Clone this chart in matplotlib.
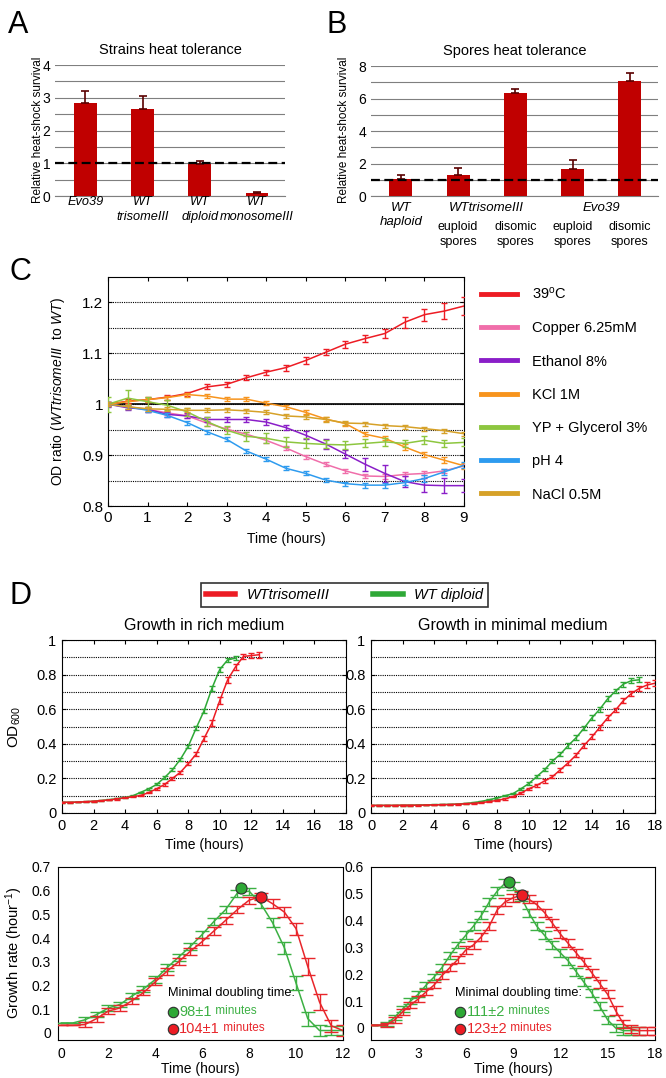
import numpy as np
import matplotlib.pyplot as plt
from matplotlib.lines import Line2D
from matplotlib.transforms import blended_transform_factory

plt.rcParams['font.family'] = ['Liberation Sans', 'DejaVu Sans']
plt.rcParams['mathtext.fontset'] = 'custom'
plt.rcParams['mathtext.rm'] = 'Liberation Sans'
plt.rcParams['mathtext.it'] = 'Liberation Sans:italic'

W, H = 666, 1078

# ---------------- A: strains heat tolerance ----------------
a_names = ['Evo39', 'WT\ntrisomeIII', 'WT\ndiploid', 'WT\nmonosomeIII']
a_vals = [2.83, 2.65, 0.99, 0.10]
a_err = [0.38, 0.39, 0.08, 0.03]

# ---------------- B: spores heat tolerance ----------------
b_sub = ['WT\nhaploid', 'euploid\nspores', 'disomic\nspores', 'euploid\nspores', 'disomic\nspores']
b_groups = ['WTtrisomeIII', 'Evo39']
b_vals = [1.02, 1.31, 6.34, 1.66, 7.10]
b_err = [0.27, 0.43, 0.23, 0.53, 0.49]

# ---------------- C: OD ratio under stresses ----------------
c_time = [0, 0.5, 1, 1.5, 2, 2.5, 3, 3.5, 4, 4.5, 5, 5.5, 6, 6.5, 7, 7.5, 8, 8.5, 9]
c_39 = [1.000, 1.006, 1.009, 1.014, 1.021, 1.034, 1.039, 1.052, 1.063, 1.072, 1.086,
        1.102, 1.118, 1.129, 1.139, 1.161, 1.176, 1.183, 1.193]
c_39_err = [0.004, 0.004, 0.005, 0.005, 0.004, 0.005, 0.005, 0.005, 0.005, 0.006, 0.007,
            0.006, 0.007, 0.007, 0.008, 0.011, 0.012, 0.015, 0.017]
c_copper = [1.000, 0.995, 0.990, 0.983, 0.977, 0.963, 0.951, 0.941, 0.929, 0.914, 0.897,
            0.882, 0.869, 0.859, 0.858, 0.862, 0.864, 0.869, 0.879]
c_copper_err = [0.004, 0.004, 0.005, 0.004, 0.004, 0.005, 0.004, 0.004, 0.005, 0.004, 0.004,
                0.004, 0.004, 0.004, 0.004, 0.004, 0.004, 0.004, 0.004]
c_ethanol = [1.000, 0.993, 0.990, 0.980, 0.977, 0.970, 0.970, 0.970, 0.965, 0.954, 0.939,
             0.922, 0.902, 0.882, 0.864, 0.848, 0.841, 0.840, 0.840]
c_ethanol_err = [0.005, 0.005, 0.005, 0.005, 0.005, 0.005, 0.004, 0.004, 0.005, 0.005, 0.008,
                 0.010, 0.008, 0.013, 0.016, 0.010, 0.014, 0.015, 0.013]
c_kcl = [1.000, 1.005, 1.009, 1.013, 1.019, 1.016, 1.010, 1.010, 1.002, 0.995, 0.984,
         0.971, 0.962, 0.941, 0.933, 0.916, 0.901, 0.890, 0.879]
c_kcl_err = [0.004, 0.004, 0.004, 0.004, 0.004, 0.004, 0.004, 0.004, 0.004, 0.004, 0.004,
             0.004, 0.004, 0.004, 0.004, 0.005, 0.005, 0.006, 0.006]
c_glycerol = [1.000, 1.012, 1.005, 0.998, 0.985, 0.966, 0.949, 0.937, 0.933, 0.926, 0.923,
              0.921, 0.920, 0.923, 0.926, 0.923, 0.929, 0.923, 0.925]
c_glycerol_err = [0.015, 0.015, 0.010, 0.010, 0.008, 0.008, 0.008, 0.009, 0.010, 0.010, 0.010,
                  0.008, 0.008, 0.008, 0.008, 0.007, 0.008, 0.007, 0.008]
c_ph4 = [1.000, 0.995, 0.988, 0.978, 0.964, 0.946, 0.931, 0.908, 0.892, 0.874, 0.864,
         0.851, 0.844, 0.841, 0.841, 0.846, 0.854, 0.867, 0.880]
c_ph4_err = [0.004, 0.004, 0.004, 0.004, 0.004, 0.004, 0.004, 0.004, 0.004, 0.004, 0.004,
             0.004, 0.004, 0.005, 0.005, 0.005, 0.006, 0.006, 0.006]
c_nacl = [1.000, 0.995, 0.991, 0.990, 0.988, 0.988, 0.989, 0.987, 0.984, 0.977, 0.975,
          0.970, 0.963, 0.962, 0.958, 0.956, 0.952, 0.948, 0.942]
c_nacl_err = [0.004, 0.004, 0.004, 0.004, 0.004, 0.004, 0.004, 0.004, 0.004, 0.004, 0.004,
              0.004, 0.004, 0.004, 0.004, 0.004, 0.004, 0.004, 0.004]
c_labels = ['39$^{\\mathrm{o}}$C', 'Copper 6.25mM', 'Ethanol 8%', 'KCl 1M', 'YP + Glycerol 3%',
            'pH 4', 'NaCl 0.5M']
c_colors = ['#ed1c24', '#f06eaa', '#8a1ec8', '#f7941d', '#8dc63f', '#2e9bef', '#d6a128']

# ---------------- D: growth curves ----------------
d_rich_t_red = [0, 0.5, 1, 1.5, 2, 2.5, 3, 3.5, 4, 4.5, 5, 5.5, 6, 6.5, 7, 7.5, 8, 8.5, 9,
                9.5, 10, 10.5, 11, 11.5, 12, 12.5]
d_rich_red = [0.062, 0.062, 0.063, 0.065, 0.068, 0.071, 0.076, 0.081, 0.088, 0.094, 0.102,
              0.118, 0.140, 0.165, 0.200, 0.235, 0.285, 0.340, 0.430, 0.520, 0.650, 0.770,
              0.845, 0.905, 0.910, 0.915]
d_rich_red_err = [0.002, 0.002, 0.002, 0.002, 0.002, 0.002, 0.002, 0.003, 0.003, 0.003, 0.004,
                  0.005, 0.006, 0.007, 0.008, 0.010, 0.010, 0.012, 0.014, 0.016, 0.018, 0.018,
                  0.016, 0.015, 0.016, 0.018]
d_rich_t_green = [0, 0.5, 1, 1.5, 2, 2.5, 3, 3.5, 4, 4.5, 5, 5.5, 6, 6.5, 7, 7.5, 8, 8.5, 9,
                  9.5, 10, 10.5, 11]
d_rich_green = [0.062, 0.062, 0.063, 0.065, 0.068, 0.072, 0.077, 0.083, 0.090, 0.100, 0.120,
                0.140, 0.165, 0.205, 0.250, 0.310, 0.385, 0.490, 0.590, 0.720, 0.830, 0.885,
                0.895]
d_rich_green_err = [0.002, 0.002, 0.002, 0.002, 0.002, 0.002, 0.002, 0.003, 0.003, 0.003, 0.004,
                    0.005, 0.006, 0.007, 0.008, 0.010, 0.010, 0.012, 0.014, 0.016, 0.014, 0.012,
                    0.010]

d_min_t_red = [0, 0.5, 1, 1.5, 2, 2.5, 3, 3.5, 4, 4.5, 5, 5.5, 6, 6.5, 7, 7.5, 8, 8.5, 9,
               9.5, 10, 10.5, 11, 11.5, 12, 12.5, 13, 13.5, 14, 14.5, 15, 15.5, 16, 16.5,
               17, 17.5, 18]
d_min_red = [0.044, 0.044, 0.044, 0.044, 0.045, 0.045, 0.045, 0.046, 0.047, 0.048, 0.049,
             0.051, 0.053, 0.056, 0.060, 0.066, 0.073, 0.082, 0.095, 0.115, 0.140, 0.160,
             0.185, 0.210, 0.250, 0.290, 0.335, 0.390, 0.440, 0.495, 0.550, 0.595, 0.650,
             0.690, 0.720, 0.740, 0.750]
d_min_red_err = [0.002, 0.002, 0.002, 0.002, 0.002, 0.002, 0.002, 0.002, 0.002, 0.002, 0.002,
                 0.002, 0.002, 0.003, 0.003, 0.003, 0.004, 0.004, 0.005, 0.006, 0.007, 0.008,
                 0.009, 0.010, 0.011, 0.012, 0.013, 0.013, 0.014, 0.014, 0.014, 0.014, 0.014,
                 0.014, 0.015, 0.016, 0.018]
d_min_t_green = [0, 0.5, 1, 1.5, 2, 2.5, 3, 3.5, 4, 4.5, 5, 5.5, 6, 6.5, 7, 7.5, 8, 8.5, 9,
                 9.5, 10, 10.5, 11, 11.5, 12, 12.5, 13, 13.5, 14, 14.5, 15, 15.5, 16, 16.5, 17]
d_min_green = [0.044, 0.044, 0.044, 0.044, 0.045, 0.045, 0.046, 0.047, 0.048, 0.049, 0.050,
               0.052, 0.055, 0.060, 0.067, 0.077, 0.087, 0.100, 0.112, 0.140, 0.170, 0.210,
               0.250, 0.300, 0.340, 0.390, 0.435, 0.490, 0.550, 0.600, 0.660, 0.705, 0.745,
               0.765, 0.770]
d_min_green_err = [0.002, 0.002, 0.002, 0.002, 0.002, 0.002, 0.002, 0.002, 0.002, 0.002, 0.002,
                   0.002, 0.002, 0.003, 0.003, 0.003, 0.004, 0.004, 0.005, 0.006, 0.007, 0.008,
                   0.009, 0.010, 0.011, 0.012, 0.013, 0.013, 0.014, 0.014, 0.014, 0.014, 0.014,
                   0.014, 0.015]

# growth rates
gr_rich_t = [0, 0.5, 1, 1.5, 2, 2.5, 3, 3.5, 4, 4.5, 5, 5.5, 6, 6.5, 7, 7.5, 8, 8.5, 9,
             9.5, 10, 10.5, 11, 11.5, 12]
gr_rich_green = [0.042, 0.042, 0.055, 0.077, 0.105, 0.120, 0.155, 0.185, 0.225, 0.275, 0.320,
                 0.365, 0.415, 0.470, 0.520, 0.590, 0.598, 0.545, 0.465, 0.360, 0.210, 0.060,
                 0.010, 0.010, 0.010]
gr_rich_green_err = [0.0, 0.0, 0.010, 0.012, 0.012, 0.012, 0.012, 0.012, 0.015, 0.015, 0.015,
                     0.015, 0.015, 0.015, 0.015, 0.015, 0.015, 0.018, 0.020, 0.025, 0.030,
                     0.030, 0.025, 0.020, 0.020]
gr_rich_red = [0.032, 0.032, 0.035, 0.060, 0.092, 0.105, 0.135, 0.170, 0.215, 0.260, 0.300,
               0.345, 0.385, 0.430, 0.475, 0.520, 0.560, 0.575, 0.545, 0.510, 0.440, 0.280,
               0.130, 0.030, 0.010]
gr_rich_red_err = [0.0, 0.0, 0.010, 0.012, 0.012, 0.012, 0.012, 0.012, 0.015, 0.015, 0.015,
                   0.015, 0.015, 0.015, 0.015, 0.015, 0.015, 0.015, 0.018, 0.020, 0.025, 0.035,
                   0.035, 0.025, 0.025]
gr_min_t_red = d_min_t_red
gr_min_red = [0.010, 0.010, 0.012, 0.030, 0.060, 0.085, 0.108, 0.135, 0.160, 0.195, 0.225,
              0.255, 0.290, 0.310, 0.340, 0.380, 0.440, 0.470, 0.485, 0.494, 0.480, 0.460,
              0.430, 0.390, 0.350, 0.315, 0.280, 0.245, 0.205, 0.165, 0.125, 0.065, 0.015,
              -0.005, -0.010, -0.010, -0.010]
gr_min_red_err = [0.0, 0.0, 0.008, 0.010, 0.010, 0.012, 0.012, 0.012, 0.012, 0.012, 0.012,
                  0.012, 0.015, 0.015, 0.015, 0.015, 0.015, 0.015, 0.015, 0.015, 0.015, 0.015,
                  0.015, 0.015, 0.015, 0.015, 0.015, 0.015, 0.015, 0.015, 0.015, 0.015, 0.015,
                  0.015, 0.015, 0.015, 0.015]
gr_min_t_green = d_min_t_green
gr_min_green = [0.010, 0.010, 0.015, 0.040, 0.070, 0.100, 0.126, 0.160, 0.190, 0.225, 0.270,
                0.310, 0.345, 0.380, 0.420, 0.470, 0.510, 0.540, 0.530, 0.490, 0.430, 0.380,
                0.345, 0.310, 0.280, 0.250, 0.210, 0.170, 0.130, 0.080, 0.030, 0.000, -0.010,
                -0.010, -0.010]
gr_min_green_err = [0.0, 0.0, 0.008, 0.010, 0.010, 0.012, 0.012, 0.012, 0.012, 0.012, 0.012,
                    0.012, 0.015, 0.015, 0.015, 0.015, 0.015, 0.015, 0.015, 0.015, 0.015, 0.015,
                    0.015, 0.015, 0.015, 0.015, 0.015, 0.015, 0.015, 0.015, 0.015, 0.015, 0.015,
                    0.015, 0.015]

# peak growth (minimal doubling time)
peak_rich_t = [7.65, 8.5]
peak_rich_v = [0.613, 0.575]
peak_min_t = [8.75, 9.55]
peak_min_v = [0.544, 0.494]
dbl_rich = ['98\u00b11', '104\u00b11']
dbl_min = ['111\u00b12', '123\u00b12']

bar_red = '#c00000'
d_red = '#ec1c24'
d_green = '#2ea836'
txt_green = '#3cb043'
txt_red = '#e8262b'

fig = plt.figure(figsize=(W / 100, H / 100), dpi=100)


def px_axes(x0, y0, x1, y1):
    return fig.add_axes([x0 / W, 1 - y1 / H, (x1 - x0) / W, (y1 - y0) / H])


def to_ax(ax, px, py):
    b = ax.get_position()
    return ((px / W - b.x0) / b.width, ((1 - py / H) - b.y0) / b.height)


def bar_panel(ax, vals, err, ymax, step, title):
    x = np.arange(len(vals))
    ax.bar(x, vals, width=0.4, color=bar_red, zorder=3)
    ax.errorbar(x, vals, yerr=[np.zeros(len(err)), err], fmt='none', ecolor='#5a0000',
                elinewidth=1.2, capsize=3, capthick=1.2, zorder=4)
    ax.axhline(1, color='black', lw=1.6, dashes=(4, 2), zorder=5)
    ax.set_ylim(0, ymax)
    ax.set_yticks(np.arange(0, ymax + 0.01, step * 2))
    ax.set_yticks(np.arange(0, ymax + 0.01, step), minor=True)
    ax.yaxis.grid(True, which='both', color='#7f7f7f', lw=0.8, zorder=0)
    ax.set_axisbelow(True)
    for s in ['left', 'top', 'right']:
        ax.spines[s].set_visible(False)
    ax.spines['bottom'].set_color('#7f7f7f')
    ax.tick_params(axis='both', which='both', length=0, labelsize=10)
    ax.set_xticks([])
    ax.set_title(title, fontsize=10.5, pad=8)
    ax.set_ylabel('Relative heat-shock survival', fontsize=8.5)
    return x


# ---- A
axA = px_axes(55, 65, 285, 196)
xa = bar_panel(axA, a_vals, a_err, 4, 0.5, 'Strains heat tolerance')
axA.set_xlim(-0.53, 3.49)
axA.yaxis.set_label_coords(*to_ax(axA, 44, 130))
trA = blended_transform_factory(axA.transData, axA.transAxes)
for xi, name in zip(xa, a_names):
    axA.text(xi, to_ax(axA, 0, 196)[1], name, transform=trA, ha='center', va='top',
             fontsize=9.2, style='italic', linespacing=1.35)

# ---- B
axB = px_axes(371, 66, 658, 196)
xb = bar_panel(axB, b_vals, b_err, 8, 1, 'Spores heat tolerance')
axB.set_xlim(-0.52, 4.49)
axB.yaxis.set_label_coords(*to_ax(axB, 350, 130))
trB = blended_transform_factory(axB.transData, axB.transAxes)
axB.text(xb[0], to_ax(axB, 0, 202)[1], b_sub[0], transform=trB, ha='center', va='top',
         fontsize=9.5, style='italic', linespacing=1.25)
for xi, name in zip(xb[1:], b_sub[1:]):
    axB.text(xi, to_ax(axB, 0, 221)[1], name, transform=trB, ha='center', va='top',
             fontsize=9, linespacing=1.3)
for k, g in enumerate(b_groups):
    axB.text((xb[1 + 2 * k] + xb[2 + 2 * k]) / 2, to_ax(axB, 0, 202)[1], g, transform=trB,
             ha='center', va='top', fontsize=9.5, style='italic')

# ---- C
axC = px_axes(108, 277, 464, 506)
c_series = [(c_39, c_39_err), (c_copper, c_copper_err), (c_ethanol, c_ethanol_err),
            (c_kcl, c_kcl_err), (c_glycerol, c_glycerol_err), (c_ph4, c_ph4_err),
            (c_nacl, c_nacl_err)]
handles = []
axC.axhline(1, color='black', lw=1.2, zorder=1)
for (vals, err), col in zip(c_series, c_colors):
    ln, = axC.plot(c_time, vals, color=col, lw=1.1, zorder=3)
    axC.errorbar(c_time, vals, yerr=err, fmt='none', ecolor=col, elinewidth=1,
                 capsize=2.5, capthick=1, zorder=3)
    handles.append(ln)
axC.set_xlim(0, 9)
axC.set_ylim(0.8, 1.25)
axC.set_xticks(range(10))
axC.set_yticks([0.8, 0.9, 1.0, 1.1, 1.2])
axC.set_yticklabels(['0.8', '0.9', '1', '1.1', '1.2'])
axC.set_yticks(np.arange(0.85, 1.21, 0.05), minor=True)
axC.yaxis.grid(True, which='both', color='black', lw=0.8, ls=(0, (1, 1)), zorder=0)
axC.tick_params(axis='both', which='major', direction='in', top=True, right=True,
                length=3, labelsize=11)
axC.tick_params(axis='y', which='minor', length=0)
axC.set_xlabel('Time (hours)', fontsize=10)
axC.xaxis.set_label_coords(*to_ax(axC, 286, 532))
axC.set_ylabel('OD ratio ($\\it{WTtrisomeIII}$  to $\\it{WT}$)', fontsize=10)
axC.yaxis.set_label_coords(*to_ax(axC, 67, 391))
leg = axC.legend(handles, c_labels, loc='upper left', bbox_to_anchor=(481 / W, 1 - 286 / H),
                 bbox_transform=fig.transFigure, frameon=False, fontsize=10.5,
                 handlelength=2.5, handletextpad=1.0, labelspacing=1.32,
                 borderaxespad=0, borderpad=0)
for ln in leg.get_lines():
    ln.set_linewidth(3.5)


# ---- D top: OD curves
def od_panel(ax, title, ylab):
    ax.set_xlim(0, 18)
    ax.set_ylim(0, 1)
    ax.set_xticks(range(0, 19, 2))
    ax.set_yticks([0, 0.2, 0.4, 0.6, 0.8, 1.0])
    ax.set_yticklabels(['0', '0.2', '0.4', '0.6', '0.8', '1'])
    ax.set_yticks(np.arange(0.1, 0.95, 0.1), minor=True)
    ax.yaxis.grid(True, which='both', color='black', lw=0.8, ls=(0, (1, 1)), zorder=0)
    ax.tick_params(axis='both', which='major', direction='in', top=True, right=True,
                   length=3, labelsize=10.5, pad=4)
    ax.tick_params(axis='y', which='minor', length=0)
    ax.set_title(title, fontsize=11.5, pad=7)
    ax.set_xlabel('Time (hours)', fontsize=10)
    pos = ax.get_position()
    ax.xaxis.set_label_coords(*to_ax(ax, (pos.x0 + pos.x1) / 2 * W, 838))
    if ylab:
        ax.set_ylabel('OD$_{600}$', fontsize=11)
        ax.yaxis.set_label_coords(*to_ax(ax, 23, 727))


def draw_curve(ax, t, v, e, col, cap):
    ax.plot(t, v, color=col, lw=1.1, zorder=3)
    ax.errorbar(t, v, yerr=e, fmt='none', ecolor=col, elinewidth=1, capsize=cap,
                capthick=1, zorder=3)


axD1 = px_axes(62, 640, 346, 813)
od_panel(axD1, 'Growth in rich medium', True)
draw_curve(axD1, d_rich_t_green, d_rich_green, d_rich_green_err, d_green, 2)
draw_curve(axD1, d_rich_t_red, d_rich_red, d_rich_red_err, d_red, 2)

axD2 = px_axes(371, 640, 655, 813)
od_panel(axD2, 'Growth in minimal medium', False)
draw_curve(axD2, d_min_t_green, d_min_green, d_min_green_err, d_green, 2)
draw_curve(axD2, d_min_t_red, d_min_red, d_min_red_err, d_red, 2)

legD = fig.legend([Line2D([], [], color=d_red, lw=4), Line2D([], [], color=d_green, lw=4)],
                  ['WTtrisomeIII', 'WT diploid'], loc='center',
                  bbox_to_anchor=(344.5 / W, 1 - 595 / H), ncol=2, frameon=True,
                  fancybox=False, edgecolor='black', prop={'style': 'italic', 'size': 10.5},
                  handlelength=2.0, columnspacing=3.0, borderpad=0.35)
legD.get_frame().set_linewidth(1.2)


# ---- D bottom: growth rates
def gr_panel(ax, xlim, xstep, ymin, ymax, ylab):
    ax.set_xlim(*xlim)
    ax.set_ylim(ymin, ymax)
    ax.set_xticks(range(0, int(xlim[1]) + 1, xstep))
    yt = np.arange(0, ymax + 0.001, 0.1)
    ax.set_yticks(yt)
    ax.set_yticklabels(['0'] + ['%.1f' % v for v in yt[1:]])
    ax.tick_params(axis='both', length=0, labelsize=10, pad=5)
    ax.set_xlabel('Time (hours)', fontsize=10)
    pos = ax.get_position()
    ax.xaxis.set_label_coords(*to_ax(ax, (pos.x0 + pos.x1) / 2 * W, 1062))
    if ylab:
        ax.set_ylabel('Growth rate (hour$^{-1}$)', fontsize=10.5)
        ax.yaxis.set_label_coords(*to_ax(ax, 25, 953))


def doubling_text(ax, x0, labels):
    ax.text(x0, 0.272, 'Minimal doubling time:', transform=ax.transAxes, fontsize=9.2,
            ha='left', va='center')
    for k, (lab, col, fc) in enumerate(zip(labels, [txt_green, txt_red], [d_green, d_red])):
        yy = [0.162, 0.064][k]
        ax.plot([x0 + 0.017], [yy], 'o', ms=7.5, mfc=fc, mec='#303030', mew=0.8,
                transform=ax.transAxes, clip_on=False, zorder=6)
        t1 = ax.text(x0 + 0.04, yy, lab, transform=ax.transAxes, fontsize=10.5, color=col,
                     ha='left', va='center')
        ax.annotate(' minutes', xy=(1, 0.12), xycoords=t1, fontsize=8.5, color=col,
                    ha='left', va='bottom')


axE1 = px_axes(58, 867, 343, 1040)
gr_panel(axE1, (-0.14, 12), 2, -0.03, 0.7, True)
draw_curve(axE1, gr_rich_t, gr_rich_green, gr_rich_green_err, txt_green, 5)
draw_curve(axE1, gr_rich_t, gr_rich_red, gr_rich_red_err, txt_red, 5)
axE1.plot(peak_rich_t[:1], peak_rich_v[:1], 'o', ms=8, mfc=d_green, mec='#303030', mew=0.8, zorder=6)
axE1.plot(peak_rich_t[1:], peak_rich_v[1:], 'o', ms=8, mfc=d_red, mec='#303030', mew=0.8, zorder=6)
axE1.spines['right'].set_linestyle((0, (1, 1)))
doubling_text(axE1, 0.385, dbl_rich)

axE2 = px_axes(371, 867, 655, 1040)
gr_panel(axE2, (0, 18), 3, -0.045, 0.6, False)
draw_curve(axE2, gr_min_t_green, gr_min_green, gr_min_green_err, txt_green, 5)
draw_curve(axE2, gr_min_t_red, gr_min_red, gr_min_red_err, txt_red, 5)
axE2.plot(peak_min_t[:1], peak_min_v[:1], 'o', ms=8, mfc=d_green, mec='#303030', mew=0.8, zorder=6)
axE2.plot(peak_min_t[1:], peak_min_v[1:], 'o', ms=8, mfc=d_red, mec='#303030', mew=0.8, zorder=6)
doubling_text(axE2, 0.296, dbl_min)

# panel letters
for lab, px, py in [('A', 18, 25), ('B', 337, 25), ('C', 20, 272), ('D', 20, 596)]:
    fig.text(px / W, 1 - py / H, lab, fontsize=22, ha='center', va='center')

fig.savefig('out.png', dpi=100)
